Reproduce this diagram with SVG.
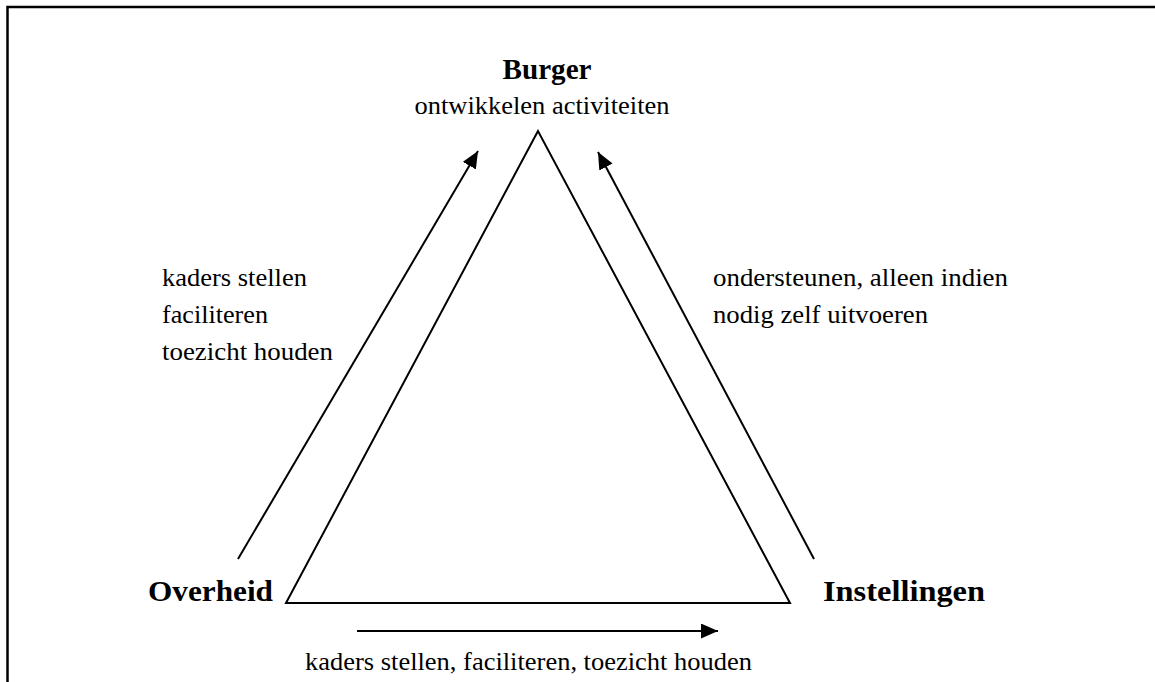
<svg xmlns="http://www.w3.org/2000/svg" width="1155" height="682" viewBox="0 0 1155 682">
  <style>
    .frame { fill: none; stroke: #000; stroke-width: 2.5; }
    .edge { fill: none; stroke: #000; stroke-width: 2; }
    .conn { fill: none; stroke: #000; stroke-width: 2; marker-end: url(#arrow); }
    .title { font-family: "Liberation Serif", "Times New Roman", serif; font-weight: bold; font-size: 30px; fill: #000; }
    .label { font-family: "Liberation Serif", "Times New Roman", serif; font-size: 26px; fill: #000; }
  </style>
  <defs>
    <marker id="arrow" markerUnits="userSpaceOnUse" markerWidth="18" markerHeight="16" refX="17" refY="7.5" orient="auto">
      <path d="M0,0 L17,7.5 L0,15 Z" fill="#000"/>
    </marker>
  </defs>
  <rect width="1155" height="682" fill="#fff"/>

  <!-- open frame: top and left borders -->
  <path class="frame" d="M7.5,690 L7.5,7 L1160,7"/>

  <!-- central triangle -->
  <path class="edge" d="M538,131 L286,603 L790,603 Z"/>

  <g id="connectors">
    <line class="conn" x1="238" y1="559" x2="478" y2="151"/>
    <line class="conn" x1="814" y1="559" x2="598" y2="152"/>
    <line class="conn" x1="357" y1="631" x2="718" y2="631"/>
  </g>

  <g id="node-burger">
    <text class="title" x="547" y="79" text-anchor="middle" textLength="89" lengthAdjust="spacingAndGlyphs">Burger</text>
    <text class="label" x="542" y="114" text-anchor="middle" textLength="255" lengthAdjust="spacingAndGlyphs">ontwikkelen activiteiten</text>
  </g>

  <g id="node-overheid">
    <text class="title" x="148" y="601" textLength="125" lengthAdjust="spacingAndGlyphs">Overheid</text>
  </g>

  <g id="node-instellingen">
    <text class="title" x="823" y="601" textLength="162" lengthAdjust="spacingAndGlyphs">Instellingen</text>
  </g>

  <g id="label-left">
    <text class="label" x="162" y="286" textLength="145" lengthAdjust="spacingAndGlyphs">kaders stellen</text>
    <text class="label" x="162" y="323" textLength="106" lengthAdjust="spacingAndGlyphs">faciliteren</text>
    <text class="label" x="162" y="360" textLength="171" lengthAdjust="spacingAndGlyphs">toezicht houden</text>
  </g>

  <g id="label-right">
    <text class="label" x="713" y="286" textLength="295" lengthAdjust="spacingAndGlyphs">ondersteunen, alleen indien</text>
    <text class="label" x="713" y="323" textLength="215" lengthAdjust="spacingAndGlyphs">nodig zelf uitvoeren</text>
  </g>

  <g id="label-bottom">
    <text class="label" x="305" y="670" textLength="447" lengthAdjust="spacingAndGlyphs">kaders stellen, faciliteren, toezicht houden</text>
  </g>
</svg>
